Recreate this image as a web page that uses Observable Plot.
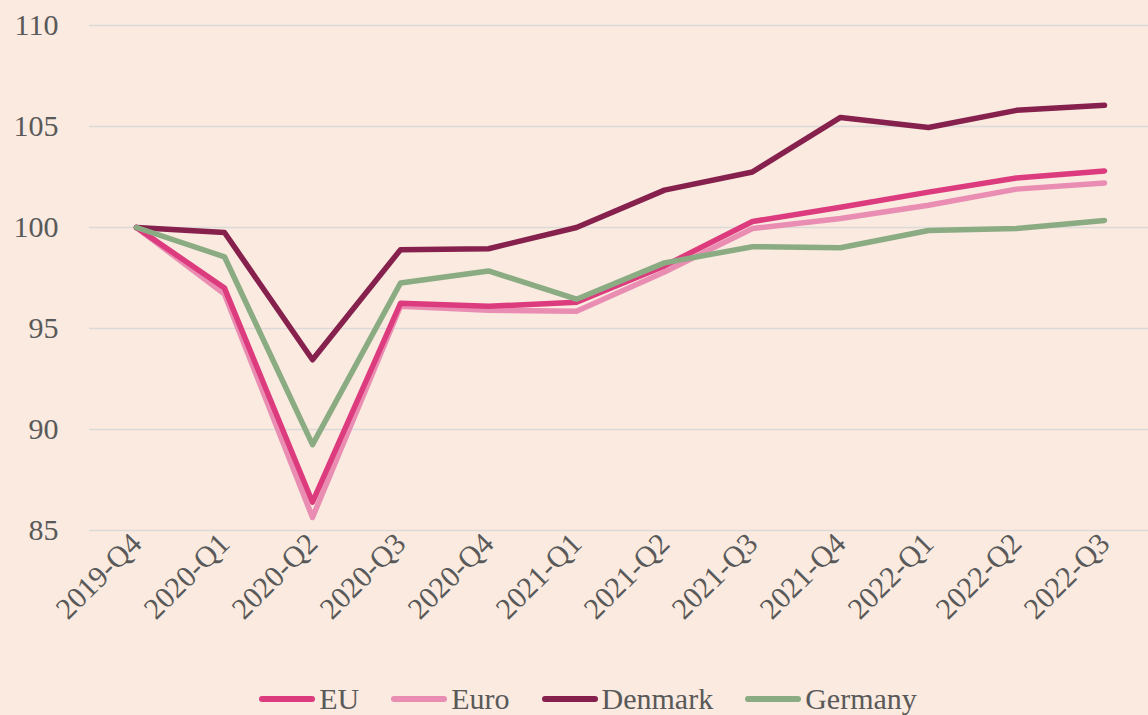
<!DOCTYPE html>
<html>
<head>
<meta charset="utf-8">
<script src="https://cdn.jsdelivr.net/npm/d3@7"></script>
<script src="https://cdn.jsdelivr.net/npm/@observablehq/plot@0.6"></script>
<style>
  html, body { margin: 0; padding: 0; background: #FAEAE0; }
  #chart { width: 1148px; height: 715px; position: relative; font-family: "Liberation Serif", serif; }
  .legend { position: absolute; left: 14px; width: 1148px; top: 681px; display: flex; justify-content: center; font-size: 30px; line-height: 36px; color: #595959; }
  .item { display: flex; align-items: center; margin: 0 16px; }
  .sw { width: 56px; height: 6px; border-radius: 3px; margin-right: 4px; }
</style>
</head>
<body>
<div id="chart"></div>
<script>
const quarters = ["2019-Q4","2020-Q1","2020-Q2","2020-Q3","2020-Q4","2021-Q1","2021-Q2","2021-Q3","2021-Q4","2022-Q1","2022-Q2","2022-Q3"];
const eu      = [100, 97.0, 86.4, 96.25, 96.1, 96.3, 98.1, 100.3, 101.0, 101.75, 102.45, 102.8];
const euro    = [100, 96.7, 85.65, 96.1, 95.9, 95.85, 97.8, 99.95, 100.45, 101.1, 101.9, 102.2];
const denmark = [100, 99.75, 93.45, 98.9, 98.95, 100.0, 101.85, 102.75, 105.45, 104.95, 105.8, 106.05];
const germany = [100, 98.55, 89.25, 97.25, 97.85, 96.45, 98.25, 99.05, 99.0, 99.85, 99.95, 100.35];
const yTicks = [85, 90, 95, 100, 105, 110];

const seriesNames = ["EU", "Euro", "Denmark", "Germany"];
const seriesValues = [eu, euro, denmark, germany];
const colors = ["#DC3B7E", "#EA8DB3", "#86204D", "#8BAC83"];
const drawOrder = ["Euro", "EU", "Denmark", "Germany"];

const rows = drawOrder.flatMap(name => {
  const vals = seriesValues[seriesNames.indexOf(name)];
  return quarters.map((q, i) => ({series: name, quarter: q, value: vals[i]}));
});

const plot = Plot.plot({
  width: 1148,
  height: 650,
  marginLeft: 89,
  marginRight: 0,
  marginTop: 25,
  marginBottom: 120,
  style: {background: "#FAEAE0", fontFamily: "Liberation Serif, serif", fontSize: "30px", color: "#595959"},
  x: {type: "point", domain: quarters, range: [133, 1106], padding: 0, label: null},
  y: {domain: [85, 110], label: null},
  color: {domain: seriesNames, range: colors},
  marks: [
    Plot.ruleY(yTicks, {stroke: "#DCDAD8", strokeWidth: 1.5}),
    Plot.axisY({ticks: yTicks, tickSize: 0, tickPadding: 31, label: null, fill: "#595959", fontSize: 30}),
    Plot.axisX({tickSize: 0, tickPadding: 8, tickRotate: -45, label: null, fill: "#595959", fontSize: 30}),
    Plot.line(rows, {x: "quarter", y: "value", z: "series", stroke: "series", strokeWidth: 5.5, strokeLinecap: "round", strokeLinejoin: "round"})
  ]
});
document.getElementById("chart").appendChild(plot);

const legend = document.createElement("div");
legend.className = "legend";
seriesNames.forEach((name, i) => {
  const it = document.createElement("div");
  it.className = "item";
  const sw = document.createElement("div");
  sw.className = "sw";
  sw.style.background = colors[i];
  const t = document.createElement("span");
  t.textContent = name;
  it.appendChild(sw); it.appendChild(t);
  legend.appendChild(it);
});
document.getElementById("chart").appendChild(legend);
</script>
</body>
</html>
